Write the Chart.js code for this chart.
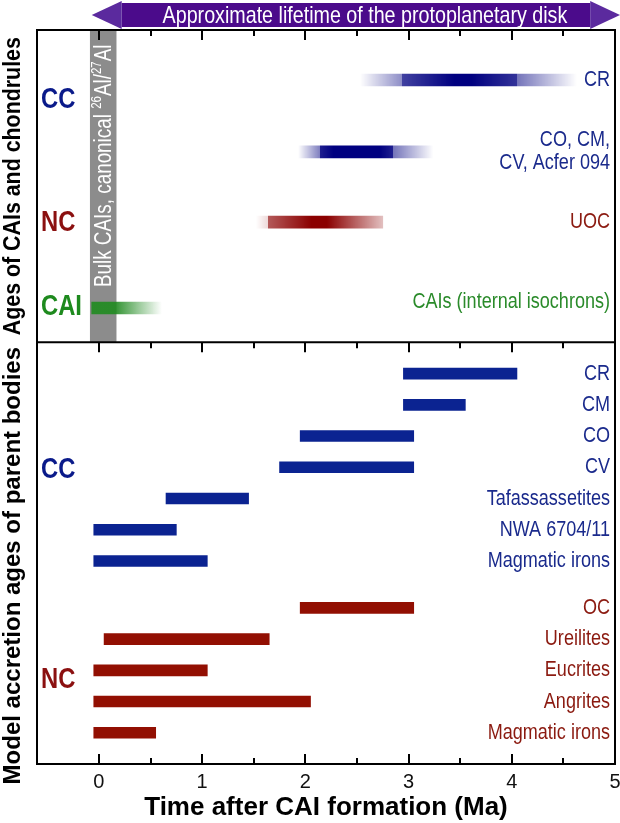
<!DOCTYPE html>
<html>
<head>
<meta charset="utf-8">
<script src="https://cdn.jsdelivr.net/npm/chart.js@4.4.1/dist/chart.umd.min.js"></script>
<style>
  html,body{margin:0;padding:0;background:#fff}
  #wrap{width:620px;height:823px}
</style>
</head>
<body>
<div id="wrap"><canvas id="chart" width="620" height="823"></canvas></div>
<script>
/* ---- data ---- */
const xTickVals = [0,0.5,1,1.5,2,2.5,3,3.5,4,4.5,5];
const diskSpan  = [-0.07, 5.05];     // approximate lifetime of the disk (arrow)
const bulkCAI   = [-0.087, 0.17];    // bulk CAIs, canonical 26Al/27Al (grey band)

// top panel : ages of CAIs and chondrules
const topNames = [['CR'], ['CO, CM,','CV, Acfer 094'], ['UOC'], ['CAIs (internal isochrons)']];
const topRows  = [1.6, 3.9, 6.15, 8.9];
const topSpan  = [[2.53,4.63],[1.93,3.24],[1.52,2.75],[-0.07,0.61]];
const topCore  = [[2.94,4.05],[2.14,2.85],[1.64,2.21],[-0.07,0.16]];
const topPeak  = [[3.44,3.61],[2.27,2.72],[2.06,2.21],[-0.07,0.16]];

// bottom panel : model accretion ages of parent bodies
const ccNames = ['CR','CM','CO','CV','Tafassassetites','NWA 6704/11','Magmatic irons'];
const ccRows  = [11,12,13,14,15,16,17];
const ccStart = [2.95,2.95,1.95,1.75,0.65,-0.05,-0.05];
const ccEnd   = [4.05,3.55,3.05,3.05,1.45,0.75,1.05];

const ncNames = ['OC','Ureilites','Eucrites','Angrites','Magmatic irons'];
const ncRows  = [18.5,19.5,20.5,21.5,22.5];
const ncStart = [1.95,0.05,-0.05,-0.05,-0.05];
const ncEnd   = [3.05,1.65,1.05,2.05,0.55];

const groupNames = ['CC','NC','CAI','CC','NC'];
const groupRows  = [2.24,6.18,8.87,14.1,20.8];

const panelTitles = ['Ages of CAIs and chondrules','Model accretion ages of parent bodies'];

/* ---- style ---- */
const SANS = '"Liberation Sans", Arial, sans-serif';
const SQUEEZE = 0.82;   // condensed look
const BLUE = '#1a2a8c', RED = '#8b1a10', GREEN = '#2b8b2b';
const topRGB   = ['0,0,128','0,0,128','139,0,0','34,139,34'];
const topAlpha = [
  [0,0.45,0.75,1,1,0.8,0.55,0],
  [0,0.5,0.88,1,1,0.88,0.55,0],
  [0,0.15,0.65,1,1,1,1,0.25],
  [0.92,0.92,0.92,0.92,0.92,0.92,0.92,0]
];
const topLabelColor = [BLUE,BLUE,RED,GREEN];
const topLabelDy    = [0,0,0,-6];
const groupColor    = ['#0a1a8a','#8b1010','#1e8a1e','#0a1a8a','#8b1010'];
const titleCenter   = [5, 17.15];     // y value of each panel title centre
const titleLength   = [298, 438];     // px length the rotated titles are fitted to

function topGradient(c){
  const ch = c.chart, xs = ch.scales.x, i = c.dataIndex;
  if(!ch.chartArea || i===undefined || !xs) return 'rgba(0,0,0,0)';
  const [a,b] = topSpan[i];
  const g = ch.ctx.createLinearGradient(xs.getPixelForValue(a),0,xs.getPixelForValue(b),0);
  const pos = [a, topCore[i][0], topCore[i][0], topPeak[i][0], topPeak[i][1], topCore[i][1], topCore[i][1], b];
  pos.forEach((v,k)=>{
    const f = Math.min(1,Math.max(0,(v-a)/(b-a)));
    g.addColorStop(f, `rgba(${topRGB[i]},${topAlpha[i][k]})`);
  });
  return g;
}

// condensed text: squeeze horizontally around the anchor
function narrow(ctx, t, x, y, align){
  ctx.save();
  ctx.translate(x, y); ctx.scale(SQUEEZE, 1);
  ctx.textAlign = align; ctx.fillText(t, 0, 0);
  ctx.restore();
}

/* ---- extra drawing: frame, ticks, band, labels, arrow ---- */
const decor = {
  id:'decor',
  beforeDatasetsDraw(chart){
    const {ctx, chartArea:ca, scales:{x,y}} = chart;
    const bx0 = x.getPixelForValue(bulkCAI[0]), bx1 = x.getPixelForValue(bulkCAI[1]);
    const sep = y.getPixelForValue(10);
    ctx.save();
    ctx.fillStyle = '#8c8c8c';
    ctx.fillRect(bx0, ca.top, bx1-bx0, sep-ca.top);
    // band text, rotated
    ctx.translate((bx0+bx1)/2, y.getPixelForValue(8.23));
    ctx.rotate(-Math.PI/2);
    ctx.scale(SQUEEZE, 1);
    ctx.fillStyle = '#fff';
    ctx.textBaseline = 'middle'; ctx.textAlign = 'left';
    const big = '23px '+SANS, small = '14px '+SANS;
    let px = 0;
    [['Bulk CAIs, canonical ',big,0],['26',small,-7],['Al/',big,0],['27',small,-7],['Al',big,0]].forEach(([t,f,dy])=>{
      ctx.font = f; ctx.fillText(t, px, dy+1); px += ctx.measureText(t).width;
    });
    ctx.restore();
  },
  afterDatasetsDraw(chart){
    const {ctx, chartArea:ca, scales:{x,y}} = chart;
    const sep = y.getPixelForValue(10);
    ctx.save();
    ctx.strokeStyle = '#000'; ctx.lineWidth = 2;
    ctx.strokeRect(ca.left, ca.top, ca.right-ca.left, ca.bottom-ca.top);
    ctx.beginPath(); ctx.moveTo(ca.left, sep); ctx.lineTo(ca.right, sep); ctx.stroke();
    // inward ticks
    ctx.beginPath();
    xTickVals.forEach(v=>{
      const p = Math.round(x.getPixelForValue(v));
      const len = Number.isInteger(v) ? 10 : 6;
      ctx.moveTo(p, ca.top); ctx.lineTo(p, ca.top+len);
      ctx.moveTo(p, sep);    ctx.lineTo(p, sep+len);
      ctx.moveTo(p, ca.bottom); ctx.lineTo(p, ca.bottom-len);
    });
    ctx.stroke();

    // right labels
    const rx = ca.right - 5;
    ctx.textBaseline = 'middle';
    ctx.font = '22px '+SANS;
    topNames.forEach((lines,i)=>{
      ctx.fillStyle = topLabelColor[i];
      const yc = y.getPixelForValue(topRows[i]) + topLabelDy[i];
      lines.forEach((t,k)=> narrow(ctx, t, rx, yc + (k-(lines.length-1)/2)*23, 'right'));
    });
    ctx.fillStyle = BLUE;
    ccNames.forEach((t,i)=> narrow(ctx, t, rx, y.getPixelForValue(ccRows[i]), 'right'));
    ctx.fillStyle = RED;
    ncNames.forEach((t,i)=> narrow(ctx, t, rx, y.getPixelForValue(ncRows[i]), 'right'));

    // group labels on the left
    ctx.font = 'bold 29px '+SANS;
    groupNames.forEach((t,i)=>{
      ctx.fillStyle = groupColor[i];
      narrow(ctx, t, ca.left+4, y.getPixelForValue(groupRows[i]), 'left');
    });

    // panel titles (rotated, fitted to length)
    ctx.fillStyle = '#000'; ctx.textAlign = 'center';
    ctx.font = 'bold 24px '+SANS;
    panelTitles.forEach((t,i)=>{
      const w = ctx.measureText(t).width;
      ctx.save();
      ctx.translate(13, y.getPixelForValue(titleCenter[i]));
      ctx.rotate(-Math.PI/2);
      ctx.scale(Math.min(1, titleLength[i]/w), 1);
      ctx.fillText(t,0,0);
      ctx.restore();
    });

    // disk lifetime arrow
    const xl = x.getPixelForValue(diskSpan[0]), xr = x.getPixelForValue(diskSpan[1]);
    const head = 30, ym = 15;
    ctx.fillStyle = '#4b0b8b';
    ctx.fillRect(xl+head, 3, xr-xl-2*head, 24);
    ctx.fillStyle = '#5b2a9e';
    ctx.beginPath(); ctx.moveTo(xl, ym); ctx.lineTo(xl+head, 1); ctx.lineTo(xl+head, 29); ctx.closePath(); ctx.fill();
    ctx.beginPath(); ctx.moveTo(xr, ym); ctx.lineTo(xr-head, 1); ctx.lineTo(xr-head, 29); ctx.closePath(); ctx.fill();
    ctx.fillStyle = '#fff';
    ctx.font = '24px '+SANS;
    narrow(ctx, 'Approximate lifetime of the protoplanetary disk', (xl+xr)/2 + 9, ym+1, 'center');
    ctx.restore();
  }
};

new Chart(document.getElementById('chart'), {
  type:'bar',
  data:{
    datasets:[
      { data: topRows.map((r,i)=>({y:r, x:topSpan[i]})), backgroundColor: topGradient, barThickness: 12, stack:'all' },
      { data: ccRows.map((r,i)=>({y:r, x:[ccStart[i], ccEnd[i]]})), backgroundColor:'#0b2391', barThickness: 11, stack:'all' },
      { data: ncRows.map((r,i)=>({y:r, x:[ncStart[i], ncEnd[i]]})), backgroundColor:'#920f02', barThickness: 11, stack:'all' }
    ]
  },
  options:{
    indexAxis:'y',
    responsive:false,
    animation:false,
    events:[],
    layout:{ padding:{ left:37, right:5, top:30, bottom:0 } },
    plugins:{ legend:{display:false}, tooltip:{enabled:false} },
    scales:{
      x:{
        type:'linear', min:-0.6, max:5, stacked:false,
        grid:{ display:false, drawTicks:false },
        border:{ display:false },
        afterBuildTicks: s => { s.ticks = xTickVals.map(v=>({value:v})); },
        afterFit: s => { s.height = 59; s.paddingLeft = 0; s.paddingRight = 0; },
        ticks:{ autoSkip:false, maxRotation:0, padding:6, color:'#111',
                font:{ family:SANS, size:20 },
                callback: v => Number.isInteger(v) ? String(v) : '' },
        title:{ display:true, text:'Time after CAI formation (Ma)', color:'#000',
                font:{ family:SANS, size:26, weight:'bold' }, padding:0 }
      },
      y:{ type:'linear', display:false, reverse:true, min:0, max:23.5, offset:false }
    }
  },
  plugins:[decor]
});
</script>
</body>
</html>
